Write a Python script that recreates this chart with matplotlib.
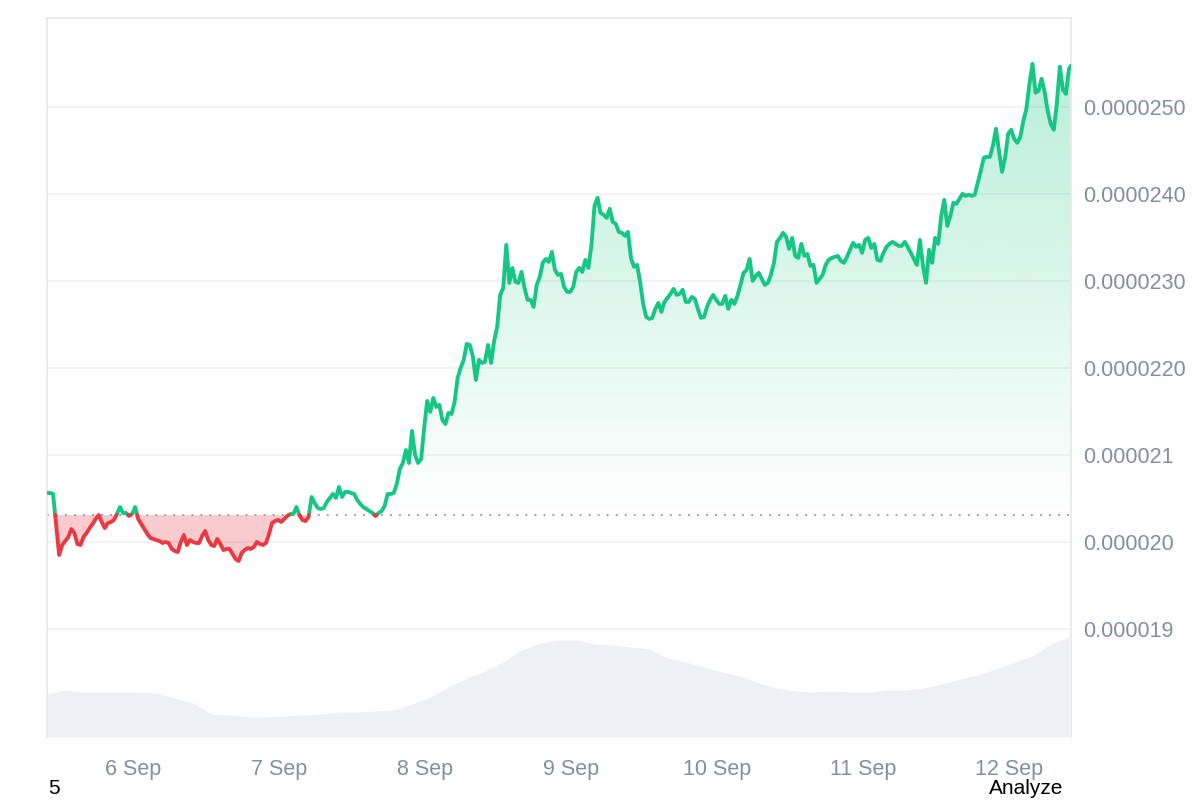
"""7-day price chart: price line coloured against the opening baseline,
with a faint volume area underneath."""
import matplotlib
matplotlib.use("Agg")
import matplotlib.pyplot as plt
import matplotlib.dates as mdates
import numpy as np
import pandas as pd
from matplotlib.colors import to_rgb
from matplotlib.path import Path

# ---- data -----------------------------------------------------------------
START = "2024-09-05 09:52"          # first sample
LAST_TIME = "2024-09-12 10:12"      # latest (live) sample

# half-hourly prices, in units of 1e-6
price_e6 = [
    20.563, 20.563, 20.552, 20.195, 19.851, 19.966, 20.011, 20.057, 20.149, 20.103,
    19.977, 19.966, 20.057, 20.103, 20.161, 20.207, 20.264, 20.310, 20.230, 20.161,
    20.218, 20.230, 20.253, 20.322, 20.402, 20.333, 20.333, 20.299, 20.322, 20.402,
    20.264, 20.207, 20.149, 20.092, 20.046, 20.034, 20.023, 20.011, 19.989, 20.000,
    19.989, 19.920, 19.897, 19.885, 20.000, 20.080, 19.966, 20.023, 20.000, 19.989,
    19.989, 20.069, 20.126, 20.023, 19.966, 19.954, 20.034, 19.977, 19.908, 19.920,
    19.920, 19.862, 19.805, 19.782, 19.874, 19.908, 19.931, 19.920, 19.943, 20.000,
    19.977, 19.966, 19.989, 20.092, 20.218, 20.241, 20.253, 20.230, 20.264, 20.299,
    20.322, 20.322, 20.402, 20.310, 20.253, 20.241, 20.287, 20.517, 20.448, 20.391,
    20.379, 20.391, 20.460, 20.506, 20.552, 20.506, 20.632, 20.517, 20.575, 20.575,
    20.563, 20.552, 20.483, 20.437, 20.402, 20.379, 20.356, 20.333, 20.299, 20.333,
    20.356, 20.414, 20.552, 20.552, 20.563, 20.667, 20.839, 20.908, 21.057, 20.908,
    21.276, 21.000, 20.908, 20.954, 21.310, 21.621, 21.494, 21.655, 21.552, 21.575,
    21.402, 21.356, 21.483, 21.471, 21.609, 21.885, 22.000, 22.092, 22.276, 22.264,
    22.138, 21.862, 22.092, 22.057, 22.069, 22.264, 22.057, 22.310, 22.471, 22.839,
    22.920, 23.414, 22.977, 23.149, 22.989, 22.977, 23.103, 22.920, 22.782, 22.782,
    22.701, 22.954, 23.046, 23.207, 23.253, 23.218, 23.333, 23.126, 23.069, 23.080,
    22.931, 22.874, 22.874, 22.931, 23.103, 23.149, 23.103, 23.241, 23.149, 23.414,
    23.862, 23.954, 23.782, 23.759, 23.724, 23.828, 23.678, 23.655, 23.563, 23.552,
    23.517, 23.563, 23.264, 23.161, 23.184, 22.989, 22.736, 22.586, 22.563, 22.575,
    22.678, 22.747, 22.644, 22.759, 22.805, 22.851, 22.908, 22.839, 22.851, 22.897,
    22.759, 22.759, 22.816, 22.793, 22.678, 22.575, 22.586, 22.701, 22.782, 22.839,
    22.782, 22.736, 22.736, 22.828, 22.678, 22.782, 22.736, 22.828, 22.954, 23.092,
    23.126, 23.253, 23.000, 23.057, 23.092, 23.023, 22.954, 22.977, 23.069, 23.207,
    23.448, 23.494, 23.552, 23.506, 23.368, 23.494, 23.287, 23.264, 23.425, 23.287,
    23.310, 23.172, 23.184, 22.977, 23.023, 23.069, 23.184, 23.241, 23.264, 23.276,
    23.287, 23.230, 23.207, 23.276, 23.356, 23.437, 23.391, 23.414, 23.322, 23.471,
    23.494, 23.379, 23.425, 23.241, 23.230, 23.322, 23.391, 23.425, 23.448, 23.425,
    23.402, 23.402, 23.448, 23.391, 23.322, 23.253, 23.184, 23.471, 23.172, 22.977,
    23.356, 23.207, 23.494, 23.425, 23.747, 23.931, 23.632, 23.747, 23.897, 23.885,
    23.943, 24.000, 23.977, 23.989, 23.977, 23.989, 24.126, 24.264, 24.414, 24.425,
    24.425, 24.552, 24.747, 24.494, 24.253, 24.414, 24.690, 24.736, 24.632, 24.586,
    24.655, 24.839, 24.977, 25.264, 25.494, 25.161, 25.184, 25.322, 25.172, 24.954,
    24.805, 24.736, 25.034, 25.460, 25.195, 25.149, 25.437,
]
last_price_e6 = 25.471
base_price_e6 = 20.31

# 3-hourly volume (relative units)
volume = [
    43, 47, 45, 45, 45, 45, 44, 39, 34, 23, 22, 20, 20, 21, 22, 23, 25, 25, 26,
    27, 33, 40, 50, 59, 66, 75, 87, 94, 97, 97, 93, 92, 90, 88, 79, 75, 70, 65,
    61, 54, 49, 46, 45, 46, 45, 45, 47, 47, 49, 53, 58, 62, 68, 75, 81, 93, 100,
]
VOL_AXIS_TOP = 719

ytick_e6 = [19, 20, 21, 22, 23, 24, 25]
ytick_labels = ["0.000019", "0.000020", "0.000021", "0.0000220",
                "0.0000230", "0.0000240", "0.0000250"]
xtick_days = pd.date_range("2024-09-06", "2024-09-12", freq="D")
xtick_labels = ["6 Sep", "7 Sep", "8 Sep", "9 Sep", "10 Sep", "11 Sep", "12 Sep"]

# ---- style ----------------------------------------------------------------
GREEN = "#16c784"
RED = "#ea3943"
TICK_COLOR = "#858e9c"
GRID_COLOR = "#eef0f3"
FRAME_COLOR = "#e6e8eb"
VOL_COLOR = "#eef1f4"
plt.rcParams["font.family"] = ["Liberation Sans", "DejaVu Sans"]

times = pd.date_range(START, periods=len(price_e6), freq="30min").append(
    pd.DatetimeIndex([LAST_TIME]))
t = mdates.date2num(times.to_pydatetime())
p = np.array(price_e6 + [last_price_e6])
vol_t = mdates.date2num(
    pd.date_range(START, periods=len(volume), freq="3h").to_pydatetime())

# insert the baseline crossings so the two colours meet exactly on it
tx, ty = [t[0]], [p[0]]
for i in range(len(p) - 1):
    a, b = p[i] - base_price_e6, p[i + 1] - base_price_e6
    if a * b < 0:
        f = a / (a - b)
        tx.append(t[i] + f * (t[i + 1] - t[i]))
        ty.append(base_price_e6)
    tx.append(t[i + 1])
    ty.append(p[i + 1])
tx, ty = np.array(tx), np.array(ty)

fig = plt.figure(figsize=(12, 8), dpi=100)
rect = [47 / 1200, 63 / 800, 1024 / 1200, 719 / 800]

# volume underneath
axv = fig.add_axes(rect, zorder=0)
axv.fill_between(vol_t, volume, 0, color=VOL_COLOR, lw=0)
axv.set_ylim(0, VOL_AXIS_TOP)
axv.set_xlim(t[0], t[-1])
axv.axis("off")

ax = fig.add_axes(rect, zorder=1)
ax.patch.set_alpha(0)

# gradient green fill above the baseline
above = ty >= base_price_e6
poly = ax.fill_between(tx, ty, base_price_e6, where=above, interpolate=True,
                       facecolor="none", lw=0)
clip = Path.make_compound_path(*poly.get_paths())
grad = np.zeros((256, 2, 4))
grad[..., :3] = to_rgb(GREEN)
grad[..., 3] = np.linspace(0.0, 0.30, 256)[:, None]
im = ax.imshow(grad, extent=[t[0], t[-1], base_price_e6, p.max()],
               origin="lower", aspect="auto", interpolation="bilinear", zorder=1)
im.set_clip_path(clip, transform=ax.transData)

# flat red fill below it
ax.fill_between(tx, ty, base_price_e6, where=ty <= base_price_e6,
                interpolate=True, color=RED, alpha=0.26, lw=0, zorder=1)

ax.plot(tx, np.where(above, ty, np.nan), color=GREEN, lw=2.8,
        solid_joinstyle="round", solid_capstyle="round", zorder=3)
ax.plot(tx, np.where(ty <= base_price_e6, ty, np.nan), color=RED, lw=2.8,
        solid_joinstyle="round", solid_capstyle="round", zorder=3)

ax.axhline(base_price_e6, color="#8f959e", lw=1.3, ls=(0, (1, 4)), zorder=2)

ax.set_xlim(t[0], t[-1])
ax.set_ylim(17.76, 26.02)

ax.set_yticks(ytick_e6)
ax.set_yticklabels(ytick_labels)
ax.yaxis.tick_right()
ax.set_xticks(mdates.date2num(xtick_days.to_pydatetime()))
ax.set_xticklabels(xtick_labels)
ax.tick_params(axis="y", length=0, pad=8.5, labelsize=15.5, labelcolor=TICK_COLOR)
ax.tick_params(axis="x", length=0, pad=15.5, labelsize=15.5, labelcolor=TICK_COLOR)
ax.grid(axis="y", color=GRID_COLOR, lw=1.1, zorder=0)
ax.set_axisbelow(True)

for side in ("left", "top", "right"):
    ax.spines[side].set_color(FRAME_COLOR)
    ax.spines[side].set_linewidth(1.2)
ax.spines["bottom"].set_visible(False)

fig.text(48 / 1200, 1 - 789 / 800, "5", fontsize=15, color="black", va="center")
fig.text(1063 / 1200, 1 - 789 / 800, "Analyze", fontsize=15, color="black",
         va="center", ha="right")

fig.savefig("out.png", dpi=100, facecolor="white")
plt.close(fig)
